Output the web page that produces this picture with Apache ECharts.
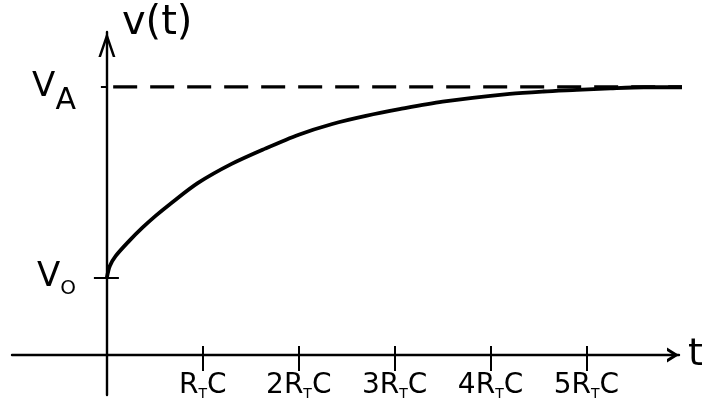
<!DOCTYPE html>
<html>
<head>
<meta charset="utf-8">
<script src="https://cdn.jsdelivr.net/npm/echarts@6/dist/echarts.min.js"></script>
<style>html,body{margin:0;padding:0;background:#fff;}#c{width:725px;height:416px;}</style>
</head>
<body>
<div id="c"></div>
<script>
// Data (t in units of R_T·C, v normalised so V_A = 1)
const tTicks = [1, 2, 3, 4, 5];
const tTickPrefixes = ['', '2', '3', '4', '5'];
const curveT = [0, 0.03, 0.09, 0.23, 0.37, 0.51, 0.65, 0.95, 1.3, 1.65, 2.0, 2.35, 2.7, 3.05, 3.5, 4.2, 4.55, 4.9, 5.25, 5.6, 6.06];
const curveV = [0.29, 0.332, 0.369, 0.425, 0.475, 0.52, 0.561, 0.642, 0.713, 0.77, 0.822, 0.862, 0.892, 0.917, 0.945, 0.974, 0.983, 0.989, 0.995, 0.999, 0.999];
const V0 = 0.29;
const VA = 1.0;
const asymptoteT = [0.065, 6.45];

const FONT = 'DejaVu Sans';
const ARROW_Y = 'path://M8.5,0 L17,25 L14.4,25 L8.5,7.8 L2.6,25 L0,25 Z';
const ARROW_X = 'path://M7.5,0 L15,12 L11.5,12 L7.5,5.7 L3.5,12 L0,12 Z';

const chart = echarts.init(document.getElementById('c'));
const xBase = { type: 'value', min: -0.99, max: 5.965, position: 'bottom', offset: -40, splitLine: { show: false } };
const yBase = { type: 'value', min: -0.149, max: 1.205, position: 'left', offset: -94.9, splitLine: { show: false } };
const tickStyle = { color: '#000', width: 2 };

chart.setOption({
  animation: false,
  backgroundColor: '#fff',
  grid: { left: 12, width: 667, top: 32, height: 363, containLabel: false, outerBoundsMode: 'none' },
  xAxis: [Object.assign({}, xBase, {
    axisLine: { onZero: false, lineStyle: { color: '#000', width: 2.4 }, symbol: ['none', ARROW_X], symbolSize: [15, 12], symbolOffset: [0, -6] },
    axisTick: { show: true, customValues: tTicks, length: 16, lineStyle: tickStyle },
    axisLabel: {
      customValues: tTicks, margin: 16, color: '#000',
      formatter: v => '{n|' + tTickPrefixes[tTicks.indexOf(v)] + 'R}{s|T}{n|C}',
      rich: {
        n: { fontSize: 28, fontFamily: FONT, color: '#000', lineHeight: 30 },
        s: { fontSize: 14, fontFamily: FONT, color: '#000', lineHeight: 30, padding: [16, 0, 0, 0] }
      }
    },
    name: 't', nameLocation: 'end', nameGap: 9,
    nameTextStyle: { color: '#000', fontFamily: FONT, fontSize: 38, verticalAlign: 'middle', align: 'left' }
  }), Object.assign({}, xBase, {
    axisLine: { onZero: false, show: false },
    axisTick: { show: true, inside: true, customValues: tTicks, length: 9, lineStyle: tickStyle },
    axisLabel: { show: false }
  })],
  yAxis: [Object.assign({}, yBase, {
    axisLine: { onZero: false, lineStyle: { color: '#000', width: 2.4 }, symbol: ['none', ARROW_Y], symbolSize: [17, 25], symbolOffset: [0, -12.5] },
    axisTick: { show: true, customValues: [V0], length: 13, lineStyle: tickStyle },
    axisLabel: {
      customValues: [V0, VA], margin: 31, color: '#000',
      formatter: v => (v === VA ? '{n|V}{a|A}' : '{n|V}{o|O}'),
      rich: {
        n: { fontSize: 34, fontFamily: FONT, color: '#000', lineHeight: 40 },
        a: { fontSize: 30, fontFamily: FONT, color: '#000', lineHeight: 40, padding: [28, 0, 0, 0] },
        o: { fontSize: 20, fontFamily: FONT, color: '#000', lineHeight: 40, padding: [22, 0, 0, 0] }
      }
    },
    name: 'v(t)', nameLocation: 'end', nameGap: 8,
    nameTextStyle: { color: '#000', fontFamily: FONT, fontSize: 40, align: 'left', verticalAlign: 'middle', padding: [0, 0, 0, 15] }
  }), Object.assign({}, yBase, {
    axisLine: { onZero: false, show: false },
    axisTick: { show: true, inside: true, customValues: [V0], length: 12, lineStyle: tickStyle },
    axisLabel: { show: false }
  }), Object.assign({}, yBase, {
    axisLine: { onZero: false, show: false },
    axisTick: { show: true, customValues: [VA], length: 6, lineStyle: tickStyle },
    axisLabel: { show: false }
  })],
  series: [{
    type: 'line', xAxisIndex: 0, yAxisIndex: 0, clip: false,
    data: curveT.map((t, i) => [t, curveV[i]]),
    smooth: 0.3, showSymbol: false, symbol: 'none',
    lineStyle: { color: '#000', width: 3.8 }
  }, {
    type: 'line', xAxisIndex: 0, yAxisIndex: 0, clip: false,
    data: asymptoteT.map(t => [t, VA]),
    showSymbol: false, symbol: 'none',
    lineStyle: { color: '#000', width: 3.2, type: [24, 13] }
  }]
});
</script>
</body>
</html>
